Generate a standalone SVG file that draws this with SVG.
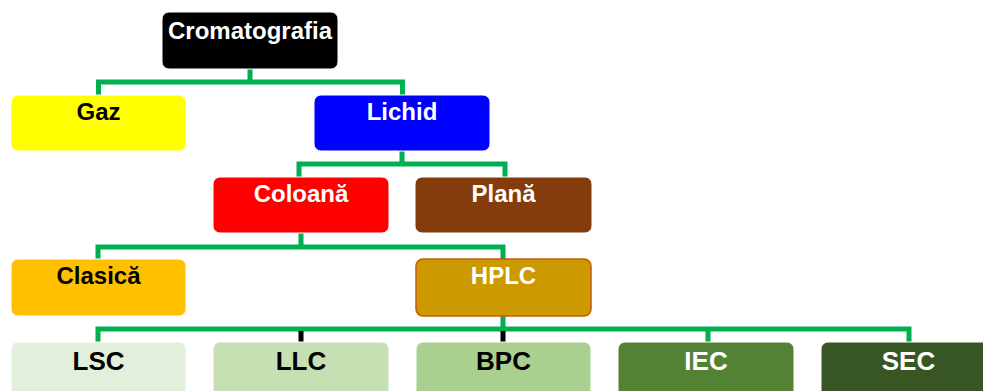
<svg xmlns="http://www.w3.org/2000/svg" width="983" height="391" viewBox="0 0 983 391">
<style>
.box{stroke:#ffffff;stroke-width:1}
.t{font-family:"Liberation Sans",Arial,sans-serif;font-weight:bold;font-size:24px;text-anchor:middle}
.b{font-size:26px}
.w{fill:#ffffff}
.k{fill:#000000}
.g{fill:none;stroke:#00b050;stroke-width:5}
.bl{fill:none;stroke:#000000;stroke-width:5}
</style>
<rect width="983" height="391" fill="#ffffff"/>
<g id="connectors">
<path class="g" d="M250 69V82M98.5 95V82H402.5V95"/>
<path class="g" d="M402 151V164M299 177V164H505V177"/>
<path class="g" d="M301 233V247M98 259V247H503V259"/>
<path class="g" d="M98 342V329H909V342M708 329V342M503 316V329"/>
<path class="bl" d="M301 331V342M503 331V342"/>
</g>
<g id="n-cromatografia"><rect class="box" x="162" y="12" width="176" height="57" rx="7" fill="#000000"/><text class="t w" x="250" y="39">Cromatografia</text></g>
<g id="n-gaz"><rect class="box" x="11" y="95" width="175" height="56" rx="7" fill="#ffff00"/><text class="t k" x="98.5" y="120">Gaz</text></g>
<g id="n-lichid"><rect class="box" x="314" y="95" width="176" height="56" rx="7" fill="#0000ff"/><text class="t w" x="402" y="120">Lichid</text></g>
<g id="n-coloana"><rect class="box" x="213" y="177" width="176" height="56" rx="7" fill="#ff0000"/><text class="t w" x="301" y="202">Coloană</text></g>
<g id="n-plana"><rect class="box" x="415" y="177" width="177" height="56" rx="7" fill="#843c0c"/><text class="t w" x="503.5" y="202">Plană</text></g>
<g id="n-clasica"><rect class="box" x="11" y="259" width="175" height="57" rx="7" fill="#ffc000"/><text class="t k" x="98.5" y="284">Clasică</text></g>
<g id="n-hplc"><rect x="416" y="259" width="175" height="57" rx="7" fill="#cc9900" stroke="#c55a11" stroke-width="1.5"/><text class="t w" x="503.5" y="284">HPLC</text></g>
<g id="n-lsc"><rect class="box" x="11" y="342" width="175" height="56" rx="7" fill="#e2efda"/><text class="t b k" x="98.5" y="370">LSC</text></g>
<g id="n-llc"><rect class="box" x="213" y="342" width="176" height="56" rx="7" fill="#c6e0b4"/><text class="t b k" x="301" y="370">LLC</text></g>
<g id="n-bpc"><rect class="box" x="416" y="342" width="175" height="56" rx="7" fill="#a9d08e"/><text class="t b k" x="503.5" y="370">BPC</text></g>
<g id="n-iec"><rect class="box" x="618" y="342" width="176" height="56" rx="7" fill="#548235"/><text class="t b w" x="706" y="370">IEC</text></g>
<g id="n-sec"><rect class="box" x="821" y="342" width="175" height="56" rx="7" fill="#375623"/><text class="t b w" x="908.5" y="370">SEC</text></g>
</svg>
